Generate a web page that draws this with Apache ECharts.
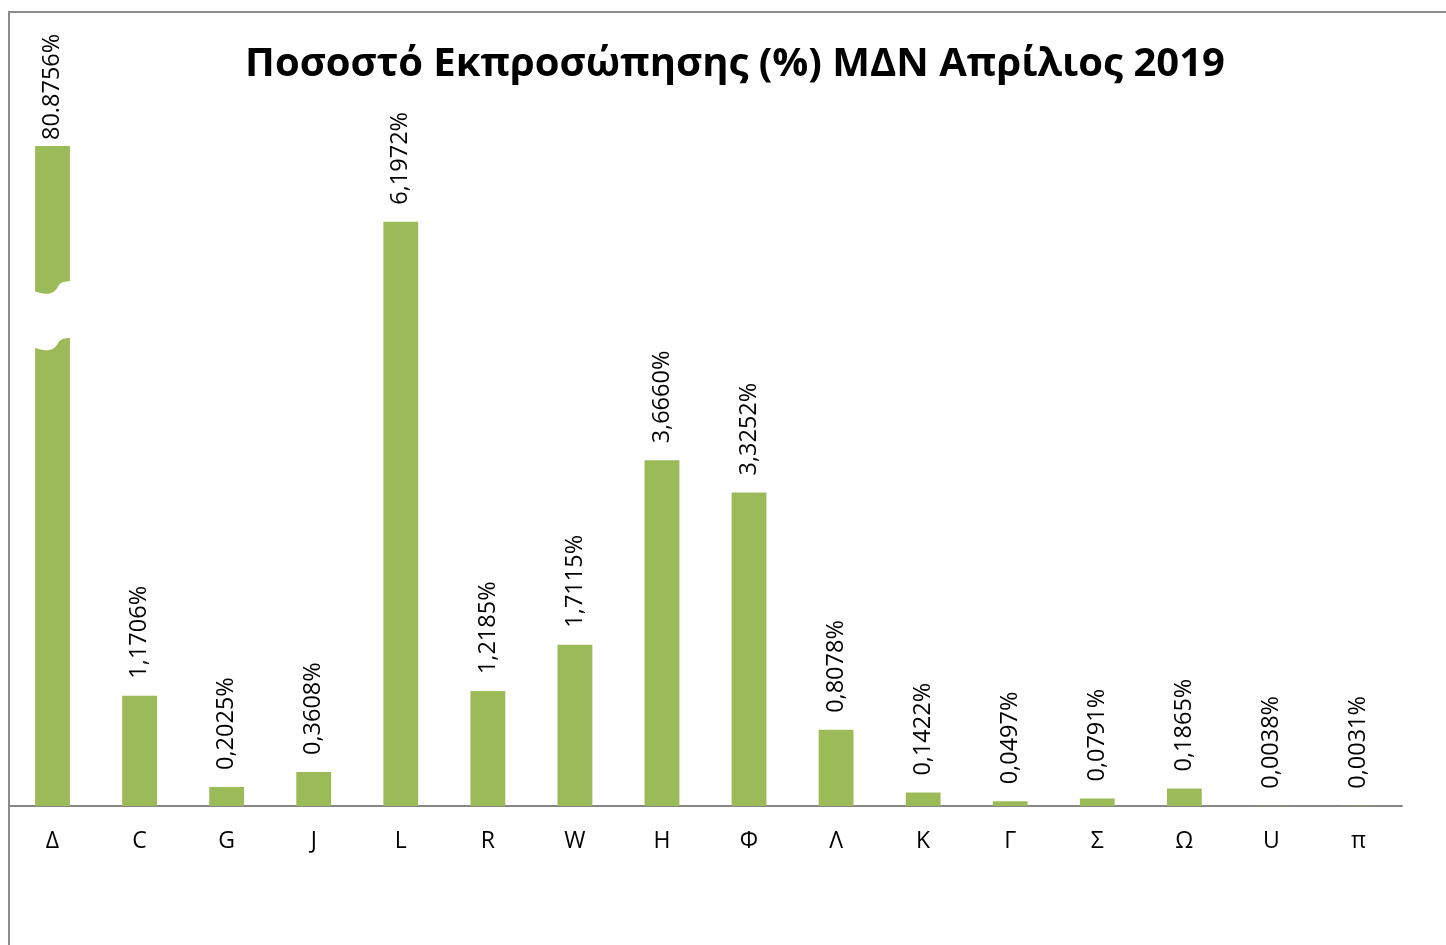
<!DOCTYPE html>
<html>
<head>
<meta charset="utf-8">
<script src="https://cdn.jsdelivr.net/npm/echarts@6/dist/echarts.min.js"></script>
<style>
html,body{margin:0;padding:0;background:#fff;}
#chart{width:1446px;height:945px;}
</style>
</head>
<body>
<div id="chart"></div>
<script>
const categories = ['Δ','C','G','J','L','R','W','H','Φ','Λ','K','Γ','Σ','Ω','U','π'];
const values = [80.8756, 1.1706, 0.2025, 0.3608, 6.1972, 1.2185, 1.7115, 3.6660, 3.3252, 0.8078, 0.1422, 0.0497, 0.0791, 0.1865, 0.0038, 0.0031];
const valueLabels = ['80.8756%','1,1706%','0,2025%','0,3608%','6,1972%','1,2185%','1,7115%','3,6660%','3,3252%','0,8078%','0,1422%','0,0497%','0,0791%','0,1865%','0,0038%','0,0031%'];
const axisMax = 7;
// broken-bar gap on the first (truncated) bar: [category index, upper value, lower value]
const breakMark = [[0, 5.5, 4.9]];

const FONT = '"Open Sans", "Noto Sans", sans-serif';
const chart = echarts.init(document.getElementById('chart'), null, {renderer: 'canvas'});

const barData = values.map((v, i) => ({
  value: v,
  label: i === 0 ? {distance: 6} : {}
}));

chart.setOption({
  backgroundColor: '#ffffff',
  animation: false,
  title: {
    text: 'Ποσοστό Εκπροσώπησης (%) ΜΔΝ Απρίλιος 2019',
    left: 730,
    textAlign: 'center',
    top: 40,
    textStyle: {fontFamily: FONT, fontWeight: 'bold', fontSize: 40, color: '#000'}
  },
  graphic: [{
    type: 'rect',
    shape: {x: 9, y: 12, width: 1500, height: 1000},
    style: {fill: 'none', stroke: '#8c8c8c', lineWidth: 2},
    silent: true,
    z: -1
  }],
  grid: {left: 9, right: 44, top: 146, bottom: 139, containLabel: false},
  xAxis: {
    type: 'category',
    data: categories,
    axisLine: {show: true, lineStyle: {color: '#868686', width: 2}},
    axisTick: {show: false},
    axisLabel: {fontFamily: FONT, fontSize: 23, color: '#000', margin: 24}
  },
  yAxis: {
    type: 'value',
    min: 0,
    max: axisMax,
    show: false,
    splitLine: {show: false}
  },
  series: [{
    type: 'bar',
    data: barData,
    barWidth: '40%',
    clip: true,
    itemStyle: {color: '#9BBB59'},
    label: {
      show: true,
      position: 'top',
      rotate: 90,
      align: 'left',
      verticalAlign: 'middle',
      distance: 17,
      fontFamily: FONT,
      fontSize: 23.5,
      color: '#000',
      formatter: p => valueLabels[p.dataIndex]
    }
  }, {
    type: 'custom',
    data: breakMark,
    encode: {x: 0, y: [1, 2]},
    z: 10,
    silent: true,
    renderItem: function (params, api) {
      const top = api.coord([api.value(0), api.value(1)]);
      const bot = api.coord([api.value(0), api.value(2)]);
      const band = api.size([1, 0])[0];
      const w = band * 0.4;
      const xl = top[0] - w / 2, xr = top[0] + w / 2;
      const yT = top[1], gap = bot[1] - top[1];
      function edge(dy) {
        return [
          [xl - 4, yT + 2 + dy],
          [xl + 0.3 * w, yT + 9 + dy], [xl + 0.55 * w, yT + 7 + dy], [xl + 0.66 * w, yT - 1 + dy],
          [xl + 0.74 * w, yT - 7 + dy], [xr, yT - 6 + dy], [xr + 4, yT - 6 + dy]
        ];
      }
      const a = edge(0), b = edge(gap);
      const path = 'M' + a[0].join(',') +
        ' C' + a[1].join(',') + ' ' + a[2].join(',') + ' ' + a[3].join(',') +
        ' C' + a[4].join(',') + ' ' + a[5].join(',') + ' ' + a[6].join(',') +
        ' L' + b[6].join(',') +
        ' C' + b[5].join(',') + ' ' + b[4].join(',') + ' ' + b[3].join(',') +
        ' C' + b[2].join(',') + ' ' + b[1].join(',') + ' ' + b[0].join(',') + ' Z';
      return {
        type: 'path',
        shape: {pathData: path},
        style: {fill: '#ffffff', stroke: null}
      };
    }
  }]
});
</script>
</body>
</html>
